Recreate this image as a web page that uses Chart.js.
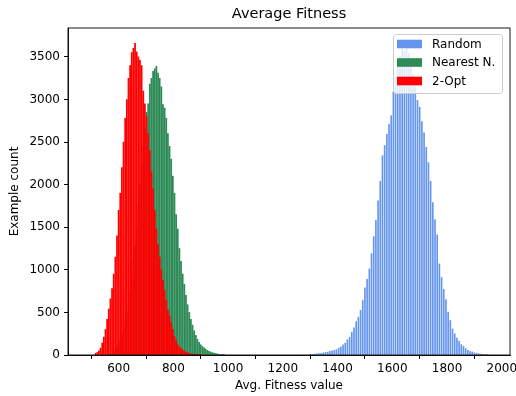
<!DOCTYPE html>
<html><head><meta charset="utf-8">
<script src="https://cdn.jsdelivr.net/npm/chart.js@4/dist/chart.umd.min.js"></script>
<style>html,body{margin:0;padding:0;background:#fff}</style>
</head><body>
<canvas id="c" width="516" height="396" style="width:516px;height:396px;display:block"></canvas>
<script>
// ---- data ----
const chartTitle = 'Average Fitness';
const seriesNames = ['Random', 'Nearest N.', '2-Opt'];
const seriesColors = ['#6495ED', '#2E8B57', '#FF0000'];

// bin start (centre of first bin) and bin width for each series
const randomStart = 1300, randomBin = 8;
const randomCounts = [5,8,10,14,18,20,26,30,34,42,
  48,56,62,80,92,120,140,178,210,268,
  318,392,445,525,640,790,890,1010,1190,1390,
  1580,1810,2040,2340,2460,2590,2710,2810,3090,3260,
  3390,3510,3590,3570,3630,3540,3460,3290,3160,2990,
  2910,2740,2610,2440,2260,2040,1790,1590,1410,1070,
  910,770,650,505,405,305,250,198,162,122,
  102,76,56,44,36,26,20,14,12,8,
  5,3];

const nearestStart = 570, nearestBin = 6;
const nearestCounts = [3,10,25,50,90,140,190,250,320,400,
  490,580,750,900,1100,1280,1500,1750,2000,2250,
  2450,2650,2850,2950,3180,3250,3330,3360,3390,3310,
  3250,3150,2940,2900,2780,2600,2450,2300,2100,1900,
  1650,1480,1250,1100,950,830,700,590,500,420,
  350,285,230,185,150,120,100,85,70,55,
  42,35,28,22,18,13,9,6,4,2];

const optStart = 516, optBin = 6;
const optCounts = [20,30,50,80,140,210,300,420,540,
  660,780,950,1150,1400,1700,1900,2200,2500,2780,
  3000,3250,3400,3550,3600,3660,3560,3500,3460,3400,
  3100,2950,2800,2600,2400,2150,1950,1700,1480,1300,
  1150,1000,880,760,640,530,460,380,300,220,
  170,120,95,75,60,45,35,28,20,15,
  10,8,5,4,3,2];

const xTicks = [600, 800, 1000, 1200, 1400, 1600, 1800, 2000];
const yTicks = [0, 500, 1000, 1500, 2000, 2500, 3000, 3500];

function toPoints(start, bin, counts) {
  return counts.map((c, i) => ({x: start + i * bin, y: c}));
}

const FONT = 'DejaVu Sans';

const framePlugin = {
  id: 'frame',
  afterDatasetsDraw(chart) {
    const {ctx, chartArea: a} = chart;
    ctx.save();
    ctx.strokeStyle = '#000';
    ctx.lineWidth = 0.9;
    ctx.strokeRect(a.left, a.top, a.right - a.left, a.bottom - a.top);
    // legend
    const w = 109, h = 59;
    const L = a.right - 8 - w, T = a.top + 6;
    ctx.beginPath();
    ctx.roundRect(L + 0.5, T + 0.5, w, h, 3);
    ctx.fillStyle = 'rgba(255,255,255,0.8)';
    ctx.fill();
    ctx.strokeStyle = '#cccccc';
    ctx.lineWidth = 1;
    ctx.stroke();
    ctx.font = '12px "' + FONT + '"';
    ctx.textBaseline = 'middle';
    ctx.textAlign = 'left';
    chart.data.datasets.forEach((ds, i) => {
      const cy = T + 10 + i * 18.5;
      ctx.fillStyle = ds.backgroundColor;
      ctx.fillRect(L + 4, cy - 4.3, 25, 8.6);
      ctx.fillStyle = '#000';
      ctx.fillText(ds.label, L + 39, cy + 0.5);
    });
    // title centred over the plot area
    ctx.font = '14.5px "' + FONT + '"';
    ctx.textAlign = 'center';
    ctx.textBaseline = 'middle';
    ctx.fillStyle = '#000';
    ctx.fillText(chartTitle, (a.left + a.right) / 2, 14);
    ctx.restore();
  }
};

const tickFont = {family: FONT, size: 12};

new Chart(document.getElementById('c'), {
  type: 'bar',
  data: {
    datasets: [
      {label: seriesNames[0], data: toPoints(randomStart, randomBin, randomCounts),
       backgroundColor: seriesColors[0], barThickness: 1.0, order: 3},
      {label: seriesNames[1], data: toPoints(nearestStart, nearestBin, nearestCounts),
       backgroundColor: seriesColors[1], barThickness: 1.1, order: 2},
      {label: seriesNames[2], data: toPoints(optStart, optBin, optCounts),
       backgroundColor: seriesColors[2], barThickness: 1.1, order: 1}
    ]
  },
  options: {
    responsive: false,
    animation: false,
    devicePixelRatio: 1,
    datasets: {bar: {grouped: false, borderWidth: 0}},
    layout: {padding: {left: 0, right: 6, top: 28, bottom: 0}},
    plugins: {
      legend: {display: false},
      tooltip: {enabled: false},
      title: {display: false}
    },
    scales: {
      x: {
        type: 'linear', min: 415, max: 2030, offset: false,
        grid: {drawOnChartArea: false, drawTicks: true, tickLength: 4, color: '#000'},
        border: {display: true, color: '#000', width: 0.9},
        ticks: {color: '#000', font: tickFont, padding: 3, maxRotation: 0, autoSkip: false,
          callback: v => String(v)},
        afterBuildTicks: s => { s.ticks = xTicks.map(v => ({value: v})); },
        afterFit: s => { s.height = 41; s.paddingLeft = 0; s.paddingRight = 0; },
        title: {display: true, text: 'Avg. Fitness value', color: '#000', font: tickFont,
          padding: {top: 0, bottom: 3}}
      },
      y: {
        type: 'linear', min: 0, max: 3840,
        grid: {drawOnChartArea: false, drawTicks: true, tickLength: 4, color: '#000'},
        border: {display: true, color: '#000', width: 0.9},
        ticks: {color: '#000', font: tickFont, padding: 4, autoSkip: false,
          callback: v => String(v)},
        afterBuildTicks: s => { s.ticks = yTicks.map(v => ({value: v})); },
        afterFit: s => { s.width = 68; s.paddingTop = 0; s.paddingBottom = 0; },
        title: {display: true, text: 'Example count', color: '#000', font: tickFont,
          padding: {top: 8, bottom: 0}}
      }
    }
  },
  plugins: [framePlugin]
});
</script></body></html>
